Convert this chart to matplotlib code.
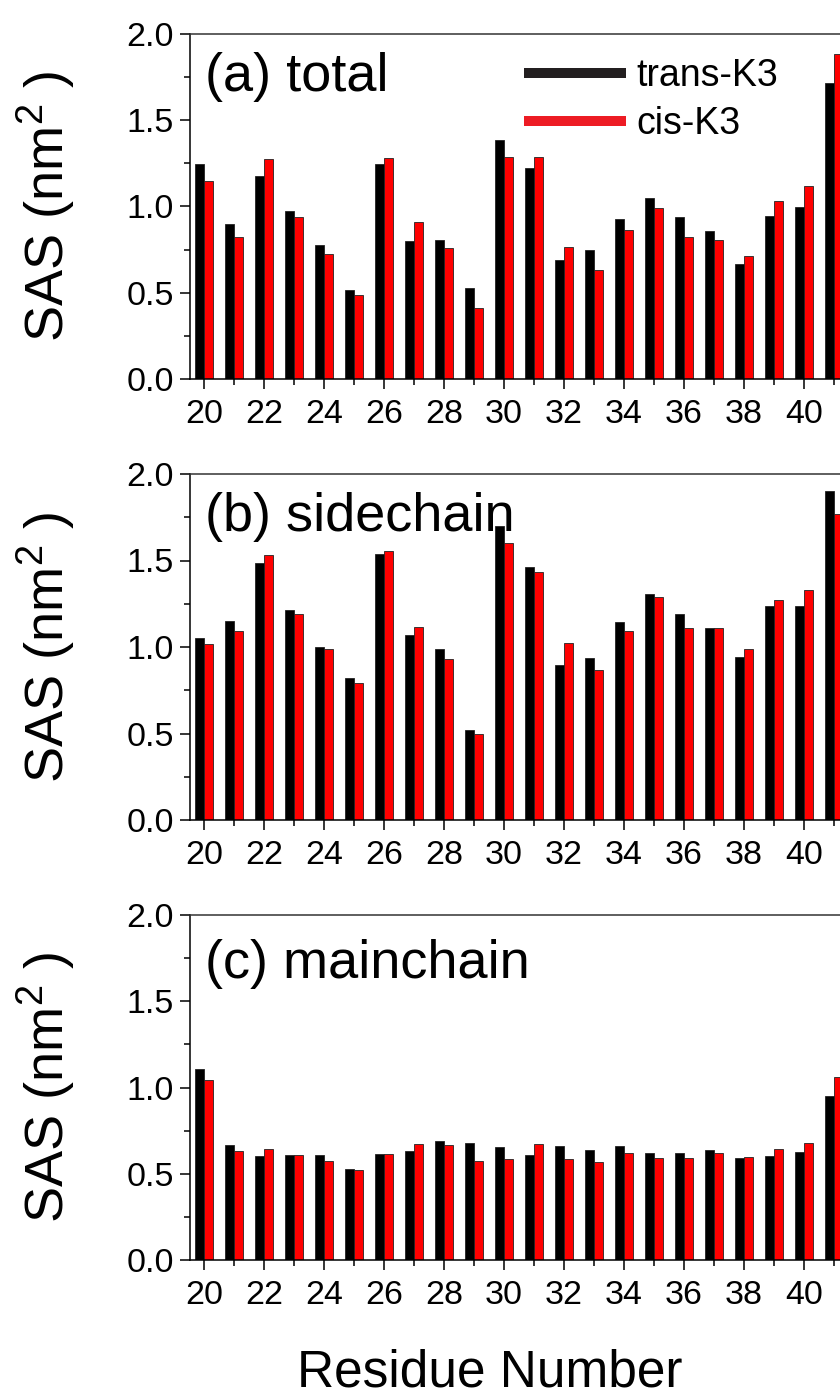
import numpy as np
import matplotlib
matplotlib.use('Agg')
import matplotlib.pyplot as plt
from matplotlib.lines import Line2D
from matplotlib.ticker import MultipleLocator

plt.rcParams['font.family'] = ['Liberation Sans', 'DejaVu Sans']
plt.rcParams['mathtext.fontset'] = 'custom'
plt.rcParams['mathtext.rm'] = 'Liberation Sans'

residues = np.arange(20, 42)

total_trans = [1.244, 0.899, 1.179, 0.972, 0.779, 0.516, 1.246, 0.802, 0.808, 0.529, 1.384,
               1.221, 0.690, 0.746, 0.929, 1.049, 0.937, 0.860, 0.665, 0.947, 0.995, 1.718]
total_cis = [1.150, 0.823, 1.275, 0.939, 0.723, 0.485, 1.279, 0.908, 0.759, 0.412, 1.285,
             1.287, 0.767, 0.632, 0.864, 0.993, 0.825, 0.804, 0.713, 1.030, 1.121, 1.886]

side_trans = [1.052, 1.151, 1.488, 1.212, 1.002, 0.822, 1.535, 1.068, 0.988, 0.521, 1.699,
              1.463, 0.894, 0.936, 1.143, 1.309, 1.193, 1.110, 0.942, 1.236, 1.237, 1.902]
side_cis = [1.015, 1.095, 1.533, 1.193, 0.988, 0.792, 1.554, 1.114, 0.932, 0.496, 1.602,
            1.432, 1.025, 0.869, 1.095, 1.290, 1.112, 1.112, 0.988, 1.270, 1.332, 1.770]

main_trans = [1.109, 0.665, 0.603, 0.609, 0.607, 0.528, 0.613, 0.632, 0.692, 0.676, 0.653,
              0.611, 0.659, 0.638, 0.663, 0.622, 0.622, 0.636, 0.589, 0.601, 0.628, 0.949]
main_cis = [1.045, 0.632, 0.642, 0.607, 0.572, 0.522, 0.613, 0.672, 0.669, 0.576, 0.587,
            0.671, 0.586, 0.568, 0.618, 0.591, 0.593, 0.618, 0.597, 0.645, 0.680, 1.061]

panels = [
    ('(a) total', total_trans, total_cis),
    ('(b) sidechain', side_trans, side_cis),
    ('(c) mainchain', main_trans, main_cis),
]

W, H = 840, 1399
fig = plt.figure(figsize=(W / 100, H / 100), dpi=100)

# axes boxes in pixels (top, bottom); the right side runs past the figure edge
boxes = [(34, 379), (474, 820), (915, 1260)]
left_px, right_px = 190, 855
label_y = [0.875, 0.876, 0.858]

bw = 0.3
for (title, trans, cis), (top, bot), ly in zip(panels, boxes, label_y):
    ax = fig.add_axes([left_px / W, 1 - bot / H, (right_px - left_px) / W, (bot - top) / H])
    ax.bar(residues - bw / 2, trans, width=bw, color='black', edgecolor='#222222', linewidth=0.6)
    ax.bar(residues + bw / 2, cis, width=bw, color='#ff0000', edgecolor='#222222', linewidth=0.6)
    ax.set_xlim(19.533, 19.533 + (right_px - left_px) / 30)
    ax.set_ylim(0, 2.0)
    ax.xaxis.set_major_locator(MultipleLocator(2))
    ax.xaxis.set_minor_locator(MultipleLocator(1))
    ax.yaxis.set_major_locator(MultipleLocator(0.5))
    ax.yaxis.set_minor_locator(MultipleLocator(0.25))
    ax.yaxis.set_major_formatter(plt.FormatStrFormatter('%.1f'))
    ax.tick_params(which='major', direction='out', length=7.5, width=1.1, labelsize=24.5)
    ax.tick_params(axis='x', which='major', pad=7)
    ax.tick_params(axis='y', which='major', pad=4)
    ax.tick_params(which='minor', direction='out', length=4.3, width=1.1)
    ax.tick_params(top=False, right=False)
    for s in ax.spines.values():
        s.set_linewidth(1.1)
    ax.spines['top'].set_color('#333333')
    ax.text(0.022, ly, title, transform=ax.transAxes, fontsize=39, ha='left', va='center')
    fig.text(46 / W, 1 - (top + bot) / 2 / H, r'SAS (nm$^{2}$ )', rotation=90,
             fontsize=39, ha='center', va='center')
    if title.startswith('(a)'):
        handles = [Line2D([], [], color='#231f20', lw=7.2),
                   Line2D([], [], color='#ed1c24', lw=7.2)]
        ax.legend(handles, ['trans-K3', 'cis-K3'], loc='upper left', bbox_to_anchor=(0.51, 0.93),
                  frameon=False, fontsize=27, handlelength=2.45, handletextpad=0.4,
                  labelspacing=0.32, borderpad=0, borderaxespad=0)

fig.text(490 / W, 1 - 1373 / H, 'Residue Number', fontsize=37, ha='center', va='center')

fig.savefig('out.png', dpi=100)
